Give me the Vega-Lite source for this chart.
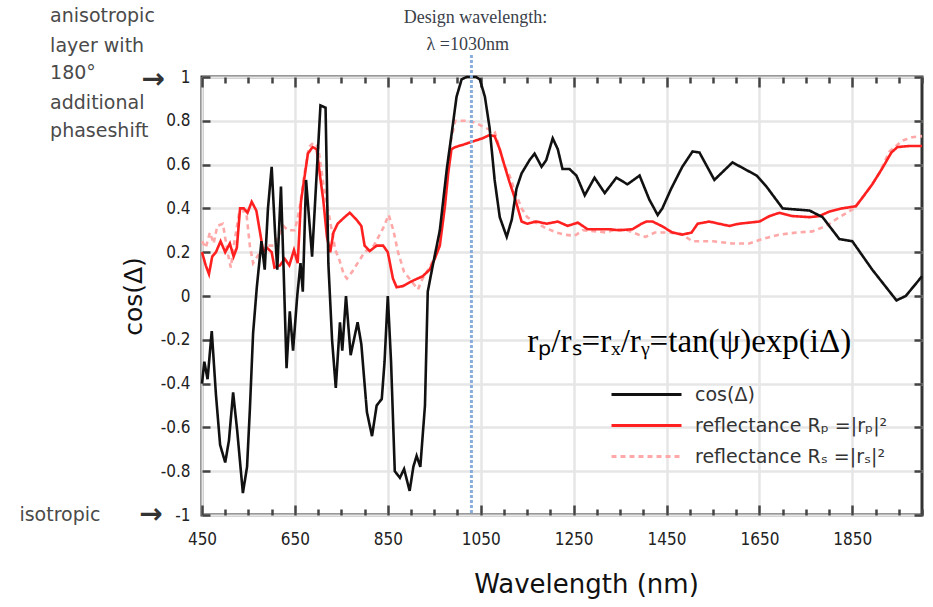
{
  "$schema": "https://vega.github.io/schema/vega-lite/v6.json",
  "width": 720,
  "height": 438,
  "autosize": {"type": "none"},
  "padding": {"left": 202, "top": 77, "right": 11, "bottom": 92},
  "background": "white",
  "config": {
    "view": {"stroke": "#333333", "strokeWidth": 3},
    "axis": {"labelFont": "DejaVu Sans Condensed", "labelFontSize": 17, "labelColor": "#222222", "titleFont": "DejaVu Sans", "titleFontWeight": "normal", "titleColor": "#111111", "tickColor": "#444444", "tickWidth": 2.5, "domain": false, "gridColor": "#e6e6e6", "gridWidth": 2.5}
  },
  "datasets": {
    "curves": [
      {"series": "reflectance Rₛ =|rₛ|²", "wl": 450, "val": 0.25},
      {"series": "reflectance Rₛ =|rₛ|²", "wl": 458, "val": 0.22},
      {"series": "reflectance Rₛ =|rₛ|²", "wl": 467, "val": 0.29},
      {"series": "reflectance Rₛ =|rₛ|²", "wl": 475, "val": 0.24},
      {"series": "reflectance Rₛ =|rₛ|²", "wl": 483, "val": 0.32},
      {"series": "reflectance Rₛ =|rₛ|²", "wl": 495, "val": 0.33},
      {"series": "reflectance Rₛ =|rₛ|²", "wl": 505, "val": 0.20},
      {"series": "reflectance Rₛ =|rₛ|²", "wl": 512, "val": 0.13},
      {"series": "reflectance Rₛ =|rₛ|²", "wl": 520, "val": 0.25},
      {"series": "reflectance Rₛ =|rₛ|²", "wl": 530, "val": 0.38},
      {"series": "reflectance Rₛ =|rₛ|²", "wl": 545, "val": 0.39},
      {"series": "reflectance Rₛ =|rₛ|²", "wl": 553, "val": 0.23},
      {"series": "reflectance Rₛ =|rₛ|²", "wl": 560, "val": 0.15},
      {"series": "reflectance Rₛ =|rₛ|²", "wl": 575, "val": 0.20},
      {"series": "reflectance Rₛ =|rₛ|²", "wl": 590, "val": 0.23},
      {"series": "reflectance Rₛ =|rₛ|²", "wl": 605, "val": 0.23},
      {"series": "reflectance Rₛ =|rₛ|²", "wl": 625, "val": 0.32},
      {"series": "reflectance Rₛ =|rₛ|²", "wl": 635, "val": 0.30},
      {"series": "reflectance Rₛ =|rₛ|²", "wl": 650, "val": 0.30},
      {"series": "reflectance Rₛ =|rₛ|²", "wl": 660, "val": 0.40},
      {"series": "reflectance Rₛ =|rₛ|²", "wl": 670, "val": 0.55},
      {"series": "reflectance Rₛ =|rₛ|²", "wl": 680, "val": 0.68},
      {"series": "reflectance Rₛ =|rₛ|²", "wl": 690, "val": 0.70},
      {"series": "reflectance Rₛ =|rₛ|²", "wl": 700, "val": 0.68},
      {"series": "reflectance Rₛ =|rₛ|²", "wl": 712, "val": 0.50},
      {"series": "reflectance Rₛ =|rₛ|²", "wl": 725, "val": 0.35},
      {"series": "reflectance Rₛ =|rₛ|²", "wl": 737, "val": 0.21},
      {"series": "reflectance Rₛ =|rₛ|²", "wl": 745, "val": 0.17},
      {"series": "reflectance Rₛ =|rₛ|²", "wl": 755, "val": 0.10},
      {"series": "reflectance Rₛ =|rₛ|²", "wl": 762, "val": 0.08},
      {"series": "reflectance Rₛ =|rₛ|²", "wl": 773, "val": 0.11},
      {"series": "reflectance Rₛ =|rₛ|²", "wl": 785, "val": 0.15},
      {"series": "reflectance Rₛ =|rₛ|²", "wl": 800, "val": 0.20},
      {"series": "reflectance Rₛ =|rₛ|²", "wl": 820, "val": 0.23},
      {"series": "reflectance Rₛ =|rₛ|²", "wl": 840, "val": 0.31},
      {"series": "reflectance Rₛ =|rₛ|²", "wl": 852, "val": 0.37},
      {"series": "reflectance Rₛ =|rₛ|²", "wl": 862, "val": 0.30},
      {"series": "reflectance Rₛ =|rₛ|²", "wl": 872, "val": 0.20},
      {"series": "reflectance Rₛ =|rₛ|²", "wl": 885, "val": 0.11},
      {"series": "reflectance Rₛ =|rₛ|²", "wl": 900, "val": 0.07},
      {"series": "reflectance Rₛ =|rₛ|²", "wl": 915, "val": 0.03},
      {"series": "reflectance Rₛ =|rₛ|²", "wl": 925, "val": 0.08},
      {"series": "reflectance Rₛ =|rₛ|²", "wl": 940, "val": 0.13},
      {"series": "reflectance Rₛ =|rₛ|²", "wl": 955, "val": 0.20},
      {"series": "reflectance Rₛ =|rₛ|²", "wl": 965, "val": 0.30},
      {"series": "reflectance Rₛ =|rₛ|²", "wl": 975, "val": 0.50},
      {"series": "reflectance Rₛ =|rₛ|²", "wl": 985, "val": 0.70},
      {"series": "reflectance Rₛ =|rₛ|²", "wl": 995, "val": 0.80},
      {"series": "reflectance Rₛ =|rₛ|²", "wl": 1020, "val": 0.80},
      {"series": "reflectance Rₛ =|rₛ|²", "wl": 1040, "val": 0.79},
      {"series": "reflectance Rₛ =|rₛ|²", "wl": 1058, "val": 0.77},
      {"series": "reflectance Rₛ =|rₛ|²", "wl": 1080, "val": 0.75},
      {"series": "reflectance Rₛ =|rₛ|²", "wl": 1090, "val": 0.68},
      {"series": "reflectance Rₛ =|rₛ|²", "wl": 1100, "val": 0.60},
      {"series": "reflectance Rₛ =|rₛ|²", "wl": 1112, "val": 0.55},
      {"series": "reflectance Rₛ =|rₛ|²", "wl": 1125, "val": 0.47},
      {"series": "reflectance Rₛ =|rₛ|²", "wl": 1138, "val": 0.40},
      {"series": "reflectance Rₛ =|rₛ|²", "wl": 1150, "val": 0.36},
      {"series": "reflectance Rₛ =|rₛ|²", "wl": 1165, "val": 0.34},
      {"series": "reflectance Rₛ =|rₛ|²", "wl": 1190, "val": 0.31},
      {"series": "reflectance Rₛ =|rₛ|²", "wl": 1213, "val": 0.29},
      {"series": "reflectance Rₛ =|rₛ|²", "wl": 1230, "val": 0.28},
      {"series": "reflectance Rₛ =|rₛ|²", "wl": 1252, "val": 0.275},
      {"series": "reflectance Rₛ =|rₛ|²", "wl": 1270, "val": 0.30},
      {"series": "reflectance Rₛ =|rₛ|²", "wl": 1300, "val": 0.295},
      {"series": "reflectance Rₛ =|rₛ|²", "wl": 1320, "val": 0.29},
      {"series": "reflectance Rₛ =|rₛ|²", "wl": 1342, "val": 0.305},
      {"series": "reflectance Rₛ =|rₛ|²", "wl": 1365, "val": 0.30},
      {"series": "reflectance Rₛ =|rₛ|²", "wl": 1390, "val": 0.28},
      {"series": "reflectance Rₛ =|rₛ|²", "wl": 1405, "val": 0.27},
      {"series": "reflectance Rₛ =|rₛ|²", "wl": 1425, "val": 0.29},
      {"series": "reflectance Rₛ =|rₛ|²", "wl": 1450, "val": 0.29},
      {"series": "reflectance Rₛ =|rₛ|²", "wl": 1480, "val": 0.285},
      {"series": "reflectance Rₛ =|rₛ|²", "wl": 1506, "val": 0.25},
      {"series": "reflectance Rₛ =|rₛ|²", "wl": 1550, "val": 0.25},
      {"series": "reflectance Rₛ =|rₛ|²", "wl": 1592, "val": 0.24},
      {"series": "reflectance Rₛ =|rₛ|²", "wl": 1628, "val": 0.24},
      {"series": "reflectance Rₛ =|rₛ|²", "wl": 1656, "val": 0.26},
      {"series": "reflectance Rₛ =|rₛ|²", "wl": 1693, "val": 0.28},
      {"series": "reflectance Rₛ =|rₛ|²", "wl": 1730, "val": 0.29},
      {"series": "reflectance Rₛ =|rₛ|²", "wl": 1764, "val": 0.295},
      {"series": "reflectance Rₛ =|rₛ|²", "wl": 1794, "val": 0.32},
      {"series": "reflectance Rₛ =|rₛ|²", "wl": 1822, "val": 0.36},
      {"series": "reflectance Rₛ =|rₛ|²", "wl": 1850, "val": 0.395},
      {"series": "reflectance Rₛ =|rₛ|²", "wl": 1880, "val": 0.47},
      {"series": "reflectance Rₛ =|rₛ|²", "wl": 1908, "val": 0.56},
      {"series": "reflectance Rₛ =|rₛ|²", "wl": 1930, "val": 0.66},
      {"series": "reflectance Rₛ =|rₛ|²", "wl": 1958, "val": 0.71},
      {"series": "reflectance Rₛ =|rₛ|²", "wl": 1979, "val": 0.725},
      {"series": "reflectance Rₛ =|rₛ|²", "wl": 2000, "val": 0.73},

      {"series": "reflectance Rₚ =|rₚ|²", "wl": 450, "val": 0.20},
      {"series": "reflectance Rₚ =|rₚ|²", "wl": 458, "val": 0.14},
      {"series": "reflectance Rₚ =|rₚ|²", "wl": 465, "val": 0.10},
      {"series": "reflectance Rₚ =|rₚ|²", "wl": 472, "val": 0.18},
      {"series": "reflectance Rₚ =|rₚ|²", "wl": 480, "val": 0.20},
      {"series": "reflectance Rₚ =|rₚ|²", "wl": 490, "val": 0.25},
      {"series": "reflectance Rₚ =|rₚ|²", "wl": 500, "val": 0.20},
      {"series": "reflectance Rₚ =|rₚ|²", "wl": 510, "val": 0.24},
      {"series": "reflectance Rₚ =|rₚ|²", "wl": 518, "val": 0.18},
      {"series": "reflectance Rₚ =|rₚ|²", "wl": 525, "val": 0.22},
      {"series": "reflectance Rₚ =|rₚ|²", "wl": 532, "val": 0.40},
      {"series": "reflectance Rₚ =|rₚ|²", "wl": 540, "val": 0.40},
      {"series": "reflectance Rₚ =|rₚ|²", "wl": 548, "val": 0.38},
      {"series": "reflectance Rₚ =|rₚ|²", "wl": 557, "val": 0.43},
      {"series": "reflectance Rₚ =|rₚ|²", "wl": 567, "val": 0.39},
      {"series": "reflectance Rₚ =|rₚ|²", "wl": 575, "val": 0.29},
      {"series": "reflectance Rₚ =|rₚ|²", "wl": 582, "val": 0.20},
      {"series": "reflectance Rₚ =|rₚ|²", "wl": 590, "val": 0.22},
      {"series": "reflectance Rₚ =|rₚ|²", "wl": 600, "val": 0.20},
      {"series": "reflectance Rₚ =|rₚ|²", "wl": 606, "val": 0.13},
      {"series": "reflectance Rₚ =|rₚ|²", "wl": 618, "val": 0.14},
      {"series": "reflectance Rₚ =|rₚ|²", "wl": 628, "val": 0.17},
      {"series": "reflectance Rₚ =|rₚ|²", "wl": 638, "val": 0.14},
      {"series": "reflectance Rₚ =|rₚ|²", "wl": 648, "val": 0.21},
      {"series": "reflectance Rₚ =|rₚ|²", "wl": 656, "val": 0.15},
      {"series": "reflectance Rₚ =|rₚ|²", "wl": 663, "val": 0.43},
      {"series": "reflectance Rₚ =|rₚ|²", "wl": 678, "val": 0.65},
      {"series": "reflectance Rₚ =|rₚ|²", "wl": 688, "val": 0.68},
      {"series": "reflectance Rₚ =|rₚ|²", "wl": 697, "val": 0.67},
      {"series": "reflectance Rₚ =|rₚ|²", "wl": 704, "val": 0.55},
      {"series": "reflectance Rₚ =|rₚ|²", "wl": 711, "val": 0.44},
      {"series": "reflectance Rₚ =|rₚ|²", "wl": 719, "val": 0.27},
      {"series": "reflectance Rₚ =|rₚ|²", "wl": 726, "val": 0.20},
      {"series": "reflectance Rₚ =|rₚ|²", "wl": 733, "val": 0.29},
      {"series": "reflectance Rₚ =|rₚ|²", "wl": 742, "val": 0.33},
      {"series": "reflectance Rₚ =|rₚ|²", "wl": 757, "val": 0.36},
      {"series": "reflectance Rₚ =|rₚ|²", "wl": 768, "val": 0.38},
      {"series": "reflectance Rₚ =|rₚ|²", "wl": 782, "val": 0.35},
      {"series": "reflectance Rₚ =|rₚ|²", "wl": 793, "val": 0.32},
      {"series": "reflectance Rₚ =|rₚ|²", "wl": 800, "val": 0.23},
      {"series": "reflectance Rₚ =|rₚ|²", "wl": 811, "val": 0.205},
      {"series": "reflectance Rₚ =|rₚ|²", "wl": 826, "val": 0.23},
      {"series": "reflectance Rₚ =|rₚ|²", "wl": 840, "val": 0.23},
      {"series": "reflectance Rₚ =|rₚ|²", "wl": 850, "val": 0.20},
      {"series": "reflectance Rₚ =|rₚ|²", "wl": 861, "val": 0.08},
      {"series": "reflectance Rₚ =|rₚ|²", "wl": 869, "val": 0.04},
      {"series": "reflectance Rₚ =|rₚ|²", "wl": 882, "val": 0.045},
      {"series": "reflectance Rₚ =|rₚ|²", "wl": 904, "val": 0.07},
      {"series": "reflectance Rₚ =|rₚ|²", "wl": 925, "val": 0.09},
      {"series": "reflectance Rₚ =|rₚ|²", "wl": 940, "val": 0.12},
      {"series": "reflectance Rₚ =|rₚ|²", "wl": 951, "val": 0.17},
      {"series": "reflectance Rₚ =|rₚ|²", "wl": 962, "val": 0.23},
      {"series": "reflectance Rₚ =|rₚ|²", "wl": 973, "val": 0.41},
      {"series": "reflectance Rₚ =|rₚ|²", "wl": 980, "val": 0.56},
      {"series": "reflectance Rₚ =|rₚ|²", "wl": 987, "val": 0.67},
      {"series": "reflectance Rₚ =|rₚ|²", "wl": 995, "val": 0.68},
      {"series": "reflectance Rₚ =|rₚ|²", "wl": 1011, "val": 0.69},
      {"series": "reflectance Rₚ =|rₚ|²", "wl": 1032, "val": 0.705},
      {"series": "reflectance Rₚ =|rₚ|²", "wl": 1054, "val": 0.72},
      {"series": "reflectance Rₚ =|rₚ|²", "wl": 1069, "val": 0.735},
      {"series": "reflectance Rₚ =|rₚ|²", "wl": 1080, "val": 0.73},
      {"series": "reflectance Rₚ =|rₚ|²", "wl": 1091, "val": 0.67},
      {"series": "reflectance Rₚ =|rₚ|²", "wl": 1102, "val": 0.59},
      {"series": "reflectance Rₚ =|rₚ|²", "wl": 1112, "val": 0.52},
      {"series": "reflectance Rₚ =|rₚ|²", "wl": 1123, "val": 0.45},
      {"series": "reflectance Rₚ =|rₚ|²", "wl": 1130, "val": 0.40},
      {"series": "reflectance Rₚ =|rₚ|²", "wl": 1138, "val": 0.34},
      {"series": "reflectance Rₚ =|rₚ|²", "wl": 1150, "val": 0.33},
      {"series": "reflectance Rₚ =|rₚ|²", "wl": 1170, "val": 0.34},
      {"series": "reflectance Rₚ =|rₚ|²", "wl": 1192, "val": 0.33},
      {"series": "reflectance Rₚ =|rₚ|²", "wl": 1216, "val": 0.34},
      {"series": "reflectance Rₚ =|rₚ|²", "wl": 1237, "val": 0.32},
      {"series": "reflectance Rₚ =|rₚ|²", "wl": 1259, "val": 0.335},
      {"series": "reflectance Rₚ =|rₚ|²", "wl": 1280, "val": 0.305},
      {"series": "reflectance Rₚ =|rₚ|²", "wl": 1302, "val": 0.305},
      {"series": "reflectance Rₚ =|rₚ|²", "wl": 1327, "val": 0.305},
      {"series": "reflectance Rₚ =|rₚ|²", "wl": 1348, "val": 0.30},
      {"series": "reflectance Rₚ =|rₚ|²", "wl": 1377, "val": 0.305},
      {"series": "reflectance Rₚ =|rₚ|²", "wl": 1396, "val": 0.33},
      {"series": "reflectance Rₚ =|rₚ|²", "wl": 1407, "val": 0.34},
      {"series": "reflectance Rₚ =|rₚ|²", "wl": 1420, "val": 0.34},
      {"series": "reflectance Rₚ =|rₚ|²", "wl": 1439, "val": 0.32},
      {"series": "reflectance Rₚ =|rₚ|²", "wl": 1463, "val": 0.29},
      {"series": "reflectance Rₚ =|rₚ|²", "wl": 1484, "val": 0.28},
      {"series": "reflectance Rₚ =|rₚ|²", "wl": 1504, "val": 0.29},
      {"series": "reflectance Rₚ =|rₚ|²", "wl": 1517, "val": 0.33},
      {"series": "reflectance Rₚ =|rₚ|²", "wl": 1542, "val": 0.34},
      {"series": "reflectance Rₚ =|rₚ|²", "wl": 1563, "val": 0.33},
      {"series": "reflectance Rₚ =|rₚ|²", "wl": 1585, "val": 0.32},
      {"series": "reflectance Rₚ =|rₚ|²", "wl": 1606, "val": 0.33},
      {"series": "reflectance Rₚ =|rₚ|²", "wl": 1628, "val": 0.335},
      {"series": "reflectance Rₚ =|rₚ|²", "wl": 1650, "val": 0.34},
      {"series": "reflectance Rₚ =|rₚ|²", "wl": 1672, "val": 0.365},
      {"series": "reflectance Rₚ =|rₚ|²", "wl": 1693, "val": 0.38},
      {"series": "reflectance Rₚ =|rₚ|²", "wl": 1721, "val": 0.365},
      {"series": "reflectance Rₚ =|rₚ|²", "wl": 1758, "val": 0.36},
      {"series": "reflectance Rₚ =|rₚ|²", "wl": 1779, "val": 0.365},
      {"series": "reflectance Rₚ =|rₚ|²", "wl": 1800, "val": 0.385},
      {"series": "reflectance Rₚ =|rₚ|²", "wl": 1828, "val": 0.40},
      {"series": "reflectance Rₚ =|rₚ|²", "wl": 1858, "val": 0.41},
      {"series": "reflectance Rₚ =|rₚ|²", "wl": 1872, "val": 0.45},
      {"series": "reflectance Rₚ =|rₚ|²", "wl": 1893, "val": 0.51},
      {"series": "reflectance Rₚ =|rₚ|²", "wl": 1915, "val": 0.585},
      {"series": "reflectance Rₚ =|rₚ|²", "wl": 1934, "val": 0.655},
      {"series": "reflectance Rₚ =|rₚ|²", "wl": 1947, "val": 0.68},
      {"series": "reflectance Rₚ =|rₚ|²", "wl": 1972, "val": 0.685},
      {"series": "reflectance Rₚ =|rₚ|²", "wl": 2000, "val": 0.685},

      {"series": "cos(Δ)", "wl": 450, "val": -0.40},
      {"series": "cos(Δ)", "wl": 455, "val": -0.30},
      {"series": "cos(Δ)", "wl": 462, "val": -0.38},
      {"series": "cos(Δ)", "wl": 471, "val": -0.16},
      {"series": "cos(Δ)", "wl": 480, "val": -0.45},
      {"series": "cos(Δ)", "wl": 489, "val": -0.68},
      {"series": "cos(Δ)", "wl": 500, "val": -0.76},
      {"series": "cos(Δ)", "wl": 508, "val": -0.66},
      {"series": "cos(Δ)", "wl": 517, "val": -0.44},
      {"series": "cos(Δ)", "wl": 526, "val": -0.62},
      {"series": "cos(Δ)", "wl": 538, "val": -0.90},
      {"series": "cos(Δ)", "wl": 547, "val": -0.78},
      {"series": "cos(Δ)", "wl": 553, "val": -0.52},
      {"series": "cos(Δ)", "wl": 560, "val": -0.17},
      {"series": "cos(Δ)", "wl": 568, "val": 0.04},
      {"series": "cos(Δ)", "wl": 578, "val": 0.25},
      {"series": "cos(Δ)", "wl": 585, "val": 0.12},
      {"series": "cos(Δ)", "wl": 592, "val": 0.40},
      {"series": "cos(Δ)", "wl": 600, "val": 0.59},
      {"series": "cos(Δ)", "wl": 607, "val": 0.30},
      {"series": "cos(Δ)", "wl": 612, "val": 0.12},
      {"series": "cos(Δ)", "wl": 620, "val": 0.50},
      {"series": "cos(Δ)", "wl": 626, "val": 0.10},
      {"series": "cos(Δ)", "wl": 632, "val": -0.33},
      {"series": "cos(Δ)", "wl": 639, "val": -0.07},
      {"series": "cos(Δ)", "wl": 646, "val": -0.25},
      {"series": "cos(Δ)", "wl": 655, "val": 0.00},
      {"series": "cos(Δ)", "wl": 662, "val": 0.15},
      {"series": "cos(Δ)", "wl": 667, "val": 0.02},
      {"series": "cos(Δ)", "wl": 674, "val": 0.53},
      {"series": "cos(Δ)", "wl": 687, "val": 0.18},
      {"series": "cos(Δ)", "wl": 705, "val": 0.87},
      {"series": "cos(Δ)", "wl": 716, "val": 0.86},
      {"series": "cos(Δ)", "wl": 722, "val": 0.15},
      {"series": "cos(Δ)", "wl": 730, "val": -0.20},
      {"series": "cos(Δ)", "wl": 738, "val": -0.42},
      {"series": "cos(Δ)", "wl": 747, "val": -0.12},
      {"series": "cos(Δ)", "wl": 752, "val": -0.25},
      {"series": "cos(Δ)", "wl": 760, "val": 0.00},
      {"series": "cos(Δ)", "wl": 770, "val": -0.27},
      {"series": "cos(Δ)", "wl": 785, "val": -0.12},
      {"series": "cos(Δ)", "wl": 793, "val": -0.22},
      {"series": "cos(Δ)", "wl": 805, "val": -0.53},
      {"series": "cos(Δ)", "wl": 816, "val": -0.64},
      {"series": "cos(Δ)", "wl": 826, "val": -0.50},
      {"series": "cos(Δ)", "wl": 837, "val": -0.47},
      {"series": "cos(Δ)", "wl": 843, "val": -0.30},
      {"series": "cos(Δ)", "wl": 850, "val": 0.00},
      {"series": "cos(Δ)", "wl": 857, "val": -0.30},
      {"series": "cos(Δ)", "wl": 865, "val": -0.80},
      {"series": "cos(Δ)", "wl": 876, "val": -0.83},
      {"series": "cos(Δ)", "wl": 885, "val": -0.79},
      {"series": "cos(Δ)", "wl": 897, "val": -0.89},
      {"series": "cos(Δ)", "wl": 905, "val": -0.78},
      {"series": "cos(Δ)", "wl": 912, "val": -0.73},
      {"series": "cos(Δ)", "wl": 920, "val": -0.78},
      {"series": "cos(Δ)", "wl": 930, "val": -0.50},
      {"series": "cos(Δ)", "wl": 936, "val": 0.02},
      {"series": "cos(Δ)", "wl": 945, "val": 0.12},
      {"series": "cos(Δ)", "wl": 962, "val": 0.30},
      {"series": "cos(Δ)", "wl": 977, "val": 0.58},
      {"series": "cos(Δ)", "wl": 988, "val": 0.75},
      {"series": "cos(Δ)", "wl": 998, "val": 0.91},
      {"series": "cos(Δ)", "wl": 1009, "val": 0.99},
      {"series": "cos(Δ)", "wl": 1020, "val": 1.00},
      {"series": "cos(Δ)", "wl": 1040, "val": 1.00},
      {"series": "cos(Δ)", "wl": 1048, "val": 0.99},
      {"series": "cos(Δ)", "wl": 1059, "val": 0.91},
      {"series": "cos(Δ)", "wl": 1069, "val": 0.77},
      {"series": "cos(Δ)", "wl": 1080, "val": 0.53},
      {"series": "cos(Δ)", "wl": 1091, "val": 0.36},
      {"series": "cos(Δ)", "wl": 1106, "val": 0.27},
      {"series": "cos(Δ)", "wl": 1117, "val": 0.35},
      {"series": "cos(Δ)", "wl": 1127, "val": 0.49},
      {"series": "cos(Δ)", "wl": 1138, "val": 0.56},
      {"series": "cos(Δ)", "wl": 1155, "val": 0.62},
      {"series": "cos(Δ)", "wl": 1166, "val": 0.65},
      {"series": "cos(Δ)", "wl": 1181, "val": 0.59},
      {"series": "cos(Δ)", "wl": 1191, "val": 0.62},
      {"series": "cos(Δ)", "wl": 1205, "val": 0.72},
      {"series": "cos(Δ)", "wl": 1216, "val": 0.67},
      {"series": "cos(Δ)", "wl": 1226, "val": 0.58},
      {"series": "cos(Δ)", "wl": 1241, "val": 0.58},
      {"series": "cos(Δ)", "wl": 1256, "val": 0.55},
      {"series": "cos(Δ)", "wl": 1274, "val": 0.46},
      {"series": "cos(Δ)", "wl": 1295, "val": 0.54},
      {"series": "cos(Δ)", "wl": 1317, "val": 0.47},
      {"series": "cos(Δ)", "wl": 1342, "val": 0.54},
      {"series": "cos(Δ)", "wl": 1366, "val": 0.51},
      {"series": "cos(Δ)", "wl": 1392, "val": 0.55},
      {"series": "cos(Δ)", "wl": 1413, "val": 0.44},
      {"series": "cos(Δ)", "wl": 1431, "val": 0.37},
      {"series": "cos(Δ)", "wl": 1441, "val": 0.40},
      {"series": "cos(Δ)", "wl": 1460, "val": 0.49},
      {"series": "cos(Δ)", "wl": 1484, "val": 0.59},
      {"series": "cos(Δ)", "wl": 1506, "val": 0.66},
      {"series": "cos(Δ)", "wl": 1521, "val": 0.655},
      {"series": "cos(Δ)", "wl": 1553, "val": 0.53},
      {"series": "cos(Δ)", "wl": 1592, "val": 0.61},
      {"series": "cos(Δ)", "wl": 1644, "val": 0.55},
      {"series": "cos(Δ)", "wl": 1665, "val": 0.50},
      {"series": "cos(Δ)", "wl": 1700, "val": 0.40},
      {"series": "cos(Δ)", "wl": 1758, "val": 0.39},
      {"series": "cos(Δ)", "wl": 1786, "val": 0.36},
      {"series": "cos(Δ)", "wl": 1822, "val": 0.26},
      {"series": "cos(Δ)", "wl": 1850, "val": 0.25},
      {"series": "cos(Δ)", "wl": 1893, "val": 0.12},
      {"series": "cos(Δ)", "wl": 1945, "val": -0.02},
      {"series": "cos(Δ)", "wl": 1965, "val": 0.00},
      {"series": "cos(Δ)", "wl": 2000, "val": 0.09}
    ]
  },
  "resolve": {"axis": {"x": "independent", "y": "independent"}},
  "layer": [
    {
      "data": {"name": "curves"},
      "mark": {"type": "line", "strokeWidth": 2.6},
      "encoding": {
        "x": {"field": "wl", "type": "quantitative", "scale": {"domain": [450, 2000], "nice": false, "zero": false},
          "axis": {"orient": "bottom", "values": [450,500,550,600,650,700,750,800,850,900,950,1000,1050,1100,1150,1200,1250,1300,1350,1400,1450,1500,1550,1600,1650,1700,1750,1800,1850,1900,1950,2000],
            "format": "d", "labelExpr": "(datum.value - 450) % 200 == 0 ? datum.label : ''",
            "tickSize": {"condition": {"test": "(datum.value - 450) % 200 == 0", "value": -10}, "value": -6},
            "gridColor": {"condition": {"test": "(datum.value - 450) % 200 == 0", "value": "#e6e6e6"}, "value": "transparent"},
            "labelPadding": 26, "labelFlush": false, "labelOverlap": false,
            "title": "Wavelength (nm)", "titleFontSize": 26, "titlePadding": 20, "titleX": 384}},
        "y": {"field": "val", "type": "quantitative", "scale": {"domain": [-1, 1], "nice": false, "zero": false},
          "axis": {"orient": "left", "values": [-1,-0.8,-0.6,-0.4,-0.2,0,0.2,0.4,0.6,0.8,1],
            "format": "~g", "labelExpr": "replace(datum.label, '−', '-')",
            "tickSize": -8, "labelPadding": 20, "labelFlush": false, "labelOverlap": false,
            "title": "cos(Δ)", "titleFontSize": 25, "titlePadding": 14}},
        "color": {"field": "series", "type": "nominal",
          "scale": {"domain": ["cos(Δ)", "reflectance Rₚ =|rₚ|²", "reflectance Rₛ =|rₛ|²"], "range": ["#111111", "#ff2020", "#ffa8a8"]},
          "legend": {"orient": "none", "legendX": 408, "legendY": 303, "title": null, "symbolType": "stroke", "symbolSize": 4900, "symbolStrokeWidth": 3, "labelFont": "DejaVu Sans", "labelFontSize": 19, "labelColor": "#333333", "labelOffset": 12, "clipHeight": 29, "rowPadding": 2, "padding": 0, "labelLimit": 400}},
        "strokeDash": {"field": "series", "type": "nominal",
          "scale": {"domain": ["cos(Δ)", "reflectance Rₚ =|rₚ|²", "reflectance Rₛ =|rₛ|²"], "range": [[1, 0], [1, 0], [5, 4]]},
          "legend": {"orient": "none", "legendX": 408, "legendY": 303, "title": null, "symbolType": "stroke", "symbolSize": 4900, "symbolStrokeWidth": 3, "labelFont": "DejaVu Sans", "labelFontSize": 19, "labelColor": "#333333", "labelOffset": 12, "clipHeight": 29, "rowPadding": 2, "padding": 0, "labelLimit": 400}}
      }
    },
    {
      "data": {"values": [{"wl": 1030, "top": 1.1, "bottom": -1}]},
      "mark": {"type": "rule", "color": "#8aaedb", "strokeWidth": 3, "strokeDash": [3, 2]},
      "encoding": {
        "x": {"field": "wl", "type": "quantitative",
          "axis": {"orient": "top", "values": [450,500,550,600,650,700,750,800,850,900,950,1000,1050,1100,1150,1200,1250,1300,1350,1400,1450,1500,1550,1600,1650,1700,1750,1800,1850,1900,1950,2000],
            "labels": false, "grid": false, "title": null,
            "tickSize": {"condition": {"test": "(datum.value - 450) % 200 == 0", "value": -10}, "value": -6}}},
        "y": {"field": "top", "type": "quantitative",
          "axis": {"orient": "right", "values": [-1,-0.8,-0.6,-0.4,-0.2,0,0.2,0.4,0.6,0.8,1], "labels": false, "grid": false, "title": null, "tickSize": -8}},
        "y2": {"field": "bottom"}
      }
    },
    {
      "data": {"values": [
        {"label": "anisotropic", "wl": 123, "val": 1.28},
        {"label": "layer with", "wl": 123, "val": 1.14},
        {"label": "180°", "wl": 123, "val": 1.02},
        {"label": "additional", "wl": 123, "val": 0.88},
        {"label": "phaseshift", "wl": 123, "val": 0.755},
        {"label": "isotropic", "wl": 57, "val": -1.0}
      ]},
      "mark": {"type": "text", "align": "left", "baseline": "middle", "font": "DejaVu Sans", "fontSize": 19, "color": "#4a4a4a"},
      "encoding": {
        "x": {"field": "wl", "type": "quantitative", "axis": null},
        "y": {"field": "val", "type": "quantitative", "axis": null},
        "text": {"field": "label"}
      }
    },
    {
      "data": {"values": [
        {"label": "→", "wl": 345, "val": 0.985},
        {"label": "→", "wl": 340, "val": -1.0}
      ]},
      "mark": {"type": "text", "align": "center", "baseline": "middle", "font": "DejaVu Sans", "fontSize": 28, "fontWeight": "bold", "color": "#333333"},
      "encoding": {
        "x": {"field": "wl", "type": "quantitative", "axis": null},
        "y": {"field": "val", "type": "quantitative", "axis": null},
        "text": {"field": "label"}
      }
    },
    {
      "data": {"values": [
        {"label": "Design  wavelength:", "wl": 1039, "val": 1.268},
        {"label": "λ =1030nm", "wl": 1022, "val": 1.145}
      ]},
      "mark": {"type": "text", "align": "center", "baseline": "middle", "font": "Liberation Serif", "fontSize": 18, "color": "#3a3f4a"},
      "encoding": {
        "x": {"field": "wl", "type": "quantitative", "axis": null},
        "y": {"field": "val", "type": "quantitative", "axis": null},
        "text": {"field": "label"}
      }
    },
    {
      "data": {"values": [
        {"label": "rₚ/rₛ=rₓ/rᵧ=tan(ψ)exp(iΔ)", "wl": 1499, "val": -0.21}
      ]},
      "mark": {"type": "text", "align": "center", "baseline": "middle", "font": "Liberation Serif", "fontSize": 33, "color": "#000000"},
      "encoding": {
        "x": {"field": "wl", "type": "quantitative", "axis": null},
        "y": {"field": "val", "type": "quantitative", "axis": null},
        "text": {"field": "label"}
      }
    }
  ]
}
